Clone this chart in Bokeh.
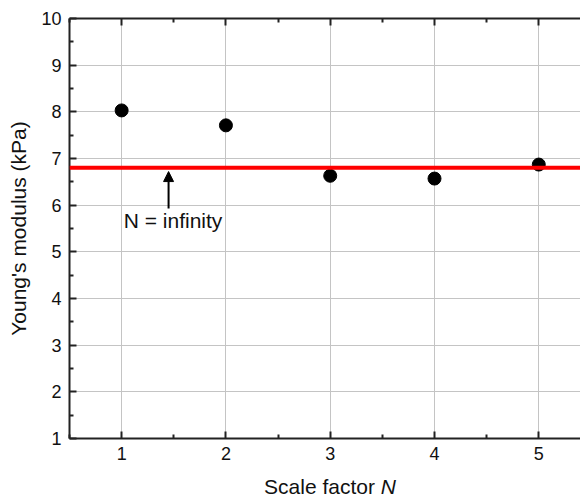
from bokeh.plotting import figure
from bokeh.models import (Span, Label, Arrow, NormalHead, FixedTicker, LinearAxis, Range1d, Div)
from bokeh.layouts import column
from bokeh.embed import file_html
from bokeh.resources import INLINE

scale_n = [1, 2, 3, 4, 5]
modulus = [8.03, 7.71, 6.63, 6.57, 6.87]
infinity_value = 6.80
x_ticks = [1, 2, 3, 4, 5]
x_minor = [0.5, 1.5, 2.5, 3.5, 4.5, 5.5]
y_ticks = [1, 2, 3, 4, 5, 6, 7, 8, 9, 10]
y_minor = [1.5, 2.5, 3.5, 4.5, 5.5, 6.5, 7.5, 8.5, 9.5]

FONT = "Liberation Sans"

p = figure(width=580, height=467, output_backend="svg", toolbar_location=None,
           x_range=Range1d(0.5, 5.4), y_range=Range1d(1, 10),
           min_border_left=69, min_border_right=0, min_border_top=18, min_border_bottom=29)
p.outline_line_color = None
p.background_fill_color = "white"

for ax in (p.xaxis[0], p.yaxis[0]):
    ax.axis_line_width = 2
    ax.axis_line_color = "#222222"
    ax.major_tick_in = 7
    ax.major_tick_out = 0
    ax.minor_tick_in = 4
    ax.minor_tick_out = 0
    ax.major_tick_line_width = 2
    ax.minor_tick_line_width = 2
    ax.major_tick_line_color = "#222222"
    ax.minor_tick_line_color = "#222222"
    ax.major_label_text_font = FONT
    ax.major_label_text_font_size = "18px"
    ax.major_label_text_color = "#111111"
    ax.axis_label_text_font = FONT
    ax.axis_label_text_font_size = "21px"
    ax.axis_label_text_font_style = "normal"
    ax.axis_label_text_color = "#111111"

p.xaxis[0].ticker = FixedTicker(ticks=x_ticks, minor_ticks=x_minor)
p.yaxis[0].ticker = FixedTicker(ticks=y_ticks, minor_ticks=y_minor)
p.yaxis[0].axis_label = "Young's modulus (kPa)"
p.yaxis[0].axis_label_standoff = 8
p.xaxis[0].major_label_standoff = 8
p.yaxis[0].major_label_standoff = 8

top = LinearAxis(ticker=FixedTicker(ticks=x_ticks, minor_ticks=x_minor),
                 major_label_text_font_size="0px", major_label_text_alpha=0,
                 axis_line_width=2, axis_line_color="#222222",
                 major_tick_in=7, major_tick_out=0, minor_tick_in=4, minor_tick_out=0,
                 major_tick_line_width=2, minor_tick_line_width=2,
                 major_tick_line_color="#222222", minor_tick_line_color="#222222")
p.add_layout(top, "above")

p.xgrid.ticker = FixedTicker(ticks=x_ticks)
p.ygrid.ticker = FixedTicker(ticks=y_ticks)
for g in (p.xgrid[0], p.ygrid[0]):
    g.grid_line_color = "#c4c4c4"
    g.grid_line_width = 1

p.add_layout(Span(location=infinity_value, dimension="width", line_color="#ff0000", line_width=4))

p.scatter(scale_n, modulus, size=13, color="black")

p.add_layout(Arrow(end=NormalHead(size=10, fill_color="black", line_color="black", line_width=1),
                   x_start=1.45, y_start=5.93, x_end=1.45, y_end=6.72,
                   line_color="black", line_width=2))
p.add_layout(Label(x=1.02, y=5.67, text="N = infinity", text_font=FONT, text_font_size="21px",
                   text_baseline="middle", text_color="#111111"))

xlabel = Div(text="Scale factor <i>N</i>", width=522, height=30, margin=(0, 0, 0, 69),
             styles={"text-align": "center", "font-family": FONT, "font-size": "21px",
                     "color": "#111111", "line-height": "40px", "width": "522px"})

layout = column(p, xlabel, spacing=0)

open("out.html", "w").write(file_html(layout, INLINE))
